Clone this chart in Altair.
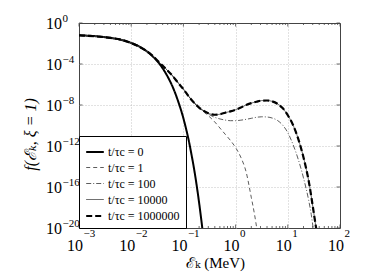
import altair as alt
import pandas as pd

# ---------------- data (log10 values) ----------------
series_labels = ["t/τc = 0", "t/τc = 1", "t/τc = 100", "t/τc = 10000", "t/τc = 1000000"]

t0_logE = [-3.0, -2.7, -2.4, -2.2, -2.0, -1.8, -1.6, -1.5, -1.4, -1.3, -1.2, -1.1,
           -1.0, -0.95, -0.9, -0.85, -0.8, -0.75, -0.7, -0.65, -0.62]
t0_logf = [-1.2, -1.28, -1.45, -1.63, -1.95, -2.42, -3.2, -3.72, -4.4, -5.25, -6.3, -7.65,
           -9.3, -10.3, -11.4, -12.7, -14.1, -15.7, -17.5, -19.5, -20.8]

main_logE = [-3.0, -2.7, -2.4, -2.2, -2.0, -1.8, -1.6, -1.5, -1.4, -1.3, -1.2, -1.1, -1.0,
             -0.9, -0.8, -0.7, -0.6, -0.5, -0.4, -0.3, -0.2, -0.1, 0.0, 0.1, 0.2, 0.3,
             0.4, 0.5, 0.6, 0.7, 0.8, 0.9, 1.0, 1.1, 1.2, 1.3, 1.4, 1.5, 1.56]
main_logf = [-1.2, -1.3, -1.45, -1.62, -1.95, -2.45, -3.15, -3.65, -4.15, -4.65, -5.2, -5.85, -6.45,
             -7.15, -7.75, -8.25, -8.6, -8.85, -8.95, -8.9, -8.75, -8.62, -8.46, -8.25, -8.0, -7.82,
             -7.68, -7.57, -7.56, -7.65, -7.88, -8.3, -9.0, -9.95, -11.3, -13.1, -15.4, -18.6, -20.6]

t1_branch_logE = [-0.7, -0.6, -0.5, -0.4, -0.3, -0.2, -0.1, 0.0, 0.1, 0.2, 0.3, 0.36, 0.42]
t1_branch_logf = [-8.3, -8.72, -9.15, -9.65, -10.25, -10.85, -11.45, -12.15, -13.1, -14.5, -17.0, -18.6, -20.5]

t100_branch_logE = [-0.6, -0.5, -0.4, -0.3, -0.2, -0.1, 0.0, 0.1, 0.2, 0.3, 0.4, 0.5, 0.6, 0.7,
                    0.8, 0.9, 1.0, 1.1, 1.2, 1.3, 1.4, 1.45, 1.5]
t100_branch_logf = [-8.62, -8.95, -9.2, -9.36, -9.47, -9.53, -9.53, -9.48, -9.4, -9.3, -9.2, -9.15,
                    -9.17, -9.27, -9.5, -9.95, -10.7, -11.85, -13.3, -15.1, -17.3, -18.7, -20.6]

x_tick_exps = [-3, -2, -1, 0, 1, 2]
y_tick_exps = [0, -4, -8, -12, -16, -20]
x_grid_exps = [-2, -1, 0, 1]
y_grid_exps = [-4, -8, -12, -16]
x_minor_mult = [2, 3, 4, 5, 6, 7, 8, 9]
x_minor_exps = [-3, -2, -1, 0, 1]

# ---------------- build table ----------------
n1 = main_logE.index(-0.8) + 1
n100 = main_logE.index(-0.7) + 1
curves = {
    series_labels[0]: (t0_logE, t0_logf),
    series_labels[1]: (main_logE[:n1] + t1_branch_logE, main_logf[:n1] + t1_branch_logf),
    series_labels[2]: (main_logE[:n100] + t100_branch_logE, main_logf[:n100] + t100_branch_logf),
    series_labels[3]: (main_logE, main_logf),
    series_labels[4]: (main_logE, main_logf),
}
rows = []
for order, (name, (le, lf)) in enumerate(curves.items()):
    for a, b in zip(le, lf):
        rows.append({"E": 10.0 ** a, "f": 10.0 ** b, "series": name, "o": order})
df = pd.DataFrame(rows)

FONT = "Liberation Serif, Times New Roman, DejaVu Serif, serif"
W, H = 261, 205
xs = alt.Scale(type="log", domain=[1e-3, 1e2])
ys = alt.Scale(type="log", domain=[1e-20, 1])
EDGE = "#444444"

def expstr(e):
    return ("−" + str(abs(e))) if e < 0 else str(e)

x_axis = alt.Axis(values=[10.0 ** e for e in x_grid_exps], grid=True, labels=False,
                  ticks=False, domain=False, title="ℰₖ (MeV)", titleFont=FONT,
                  titleFontSize=15, titleFontWeight="normal", titleX=136, titleY=39,
                  titleBaseline="alphabetic", titleColor="black")
y_axis = alt.Axis(values=[10.0 ** e for e in y_grid_exps], grid=True, labels=False,
                  ticks=False, domain=False, title="f(ℰₖ, ξ = 1)", titleFont=FONT,
                  titleFontSize=16, titleFontWeight="normal", titleFontStyle="italic",
                  titleX=-44, titleY=111, titleBaseline="alphabetic", titleColor="black")

lines = alt.Chart(df).mark_line(clip=True, interpolate="monotone").encode(
    x=alt.X("E:Q", scale=xs, axis=x_axis),
    y=alt.Y("f:Q", scale=ys, axis=y_axis),
    color=alt.Color("series:N",
                    scale=alt.Scale(domain=series_labels,
                                    range=["black", "#333333", "#333333", "#333333", "black"]),
                    legend=alt.Legend(orient="bottom-left", offset=0, title=None,
                                      strokeColor="black", fillColor="white", padding=6,
                                      symbolType="stroke", symbolSize=310, labelFont=FONT,
                                      labelFontSize=12, labelColor="black", rowPadding=0,
                                      labelOffset=3)),
    strokeDash=alt.StrokeDash("series:N",
                              scale=alt.Scale(domain=series_labels,
                                              range=[[1, 0], [4, 3], [5, 2, 1, 2], [1, 0], [6, 3]])),
    strokeWidth=alt.StrokeWidth("series:N",
                                scale=alt.Scale(type="ordinal", domain=series_labels,
                                                range=[2, 0.8, 0.8, 0.8, 2.2])),
    order="o:Q",
)

xt = pd.DataFrame({"E": [10.0 ** e for e in x_tick_exps],
                   "base": ["10"] * len(x_tick_exps),
                   "ex": [expstr(e) for e in x_tick_exps]})
yt = pd.DataFrame({"f": [10.0 ** e for e in y_tick_exps],
                   "base": ["10"] * len(y_tick_exps),
                   "ex": [expstr(e) for e in y_tick_exps]})
xminor = pd.DataFrame({"E": [m * 10.0 ** e for e in x_minor_exps for m in x_minor_mult]})

x_base = alt.Chart(xt).mark_text(align="right", baseline="alphabetic", dx=4, font=FONT,
                                 fontSize=16, color="black").encode(
    x=alt.X("E:Q", scale=xs, axis=x_axis), y=alt.value(228), text="base:N")
x_exp = alt.Chart(xt).mark_text(align="left", baseline="alphabetic", dx=4.5, font=FONT,
                                fontSize=11, color="black").encode(
    x=alt.X("E:Q", scale=xs, axis=x_axis), y=alt.value(214), text="ex:N")
y_base = alt.Chart(yt).mark_text(align="right", baseline="alphabetic", dy=6, font=FONT,
                                 fontSize=16, color="black").encode(
    y=alt.Y("f:Q", scale=ys, axis=y_axis), x=alt.value(-17), text="base:N")
y_exp = alt.Chart(yt).mark_text(align="left", baseline="alphabetic", dy=-1, font=FONT,
                                fontSize=11, color="black").encode(
    y=alt.Y("f:Q", scale=ys, axis=y_axis), x=alt.value(-16.5), text="ex:N")

# inward ticks (MATLAB style)
xmin_top = alt.Chart(xminor).mark_rule(color=EDGE, strokeWidth=0.8).encode(
    x=alt.X("E:Q", scale=xs, axis=x_axis), y=alt.value(0), y2=alt.value(2))
xmin_bot = alt.Chart(xminor).mark_rule(color=EDGE, strokeWidth=0.8).encode(
    x=alt.X("E:Q", scale=xs, axis=x_axis), y=alt.value(H), y2=alt.value(H - 2))
xmaj_top = alt.Chart(xt).mark_rule(color=EDGE, strokeWidth=0.8).encode(
    x=alt.X("E:Q", scale=xs, axis=x_axis), y=alt.value(0), y2=alt.value(3.5))
xmaj_bot = alt.Chart(xt).mark_rule(color=EDGE, strokeWidth=0.8).encode(
    x=alt.X("E:Q", scale=xs, axis=x_axis), y=alt.value(H), y2=alt.value(H - 3.5))
ymaj_l = alt.Chart(yt).mark_rule(color=EDGE, strokeWidth=0.8).encode(
    y=alt.Y("f:Q", scale=ys, axis=y_axis), x=alt.value(0), x2=alt.value(3.5))
ymaj_r = alt.Chart(yt).mark_rule(color=EDGE, strokeWidth=0.8).encode(
    y=alt.Y("f:Q", scale=ys, axis=y_axis), x=alt.value(W), x2=alt.value(W - 3.5))

chart = alt.layer(xmin_top, xmin_bot, xmaj_top, xmaj_bot, ymaj_l, ymaj_r,
                  lines, x_base, x_exp, y_base, y_exp).properties(
    width=W, height=H,
    autosize=alt.AutoSizeParams(type="none"),
    padding={"left": 71, "top": 15, "right": 26, "bottom": 44},
).configure_view(stroke=EDGE, strokeWidth=1).configure_axis(
    gridColor="#b5b5b5", gridDash=[1, 2], gridWidth=0.8
)

chart.save("out.html", embed_options={"renderer": "svg", "actions": False})
